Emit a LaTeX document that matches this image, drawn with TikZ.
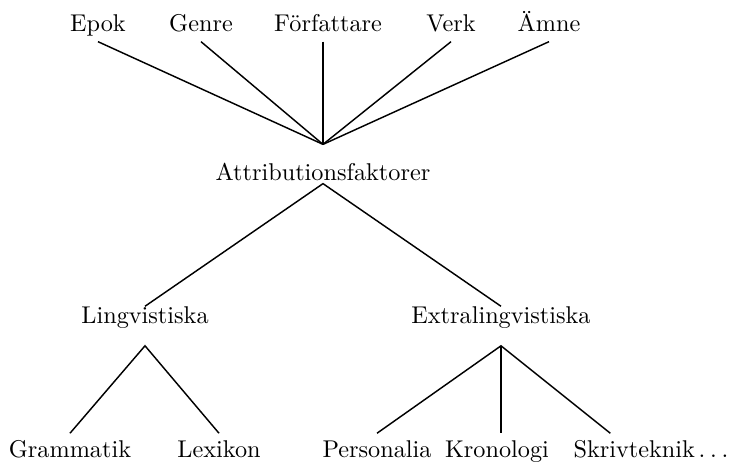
\documentclass[tikz,border=0pt]{standalone}
\usepackage{tikz}

\begin{document}
\begin{tikzpicture}[x=0.0145cm, y=-0.0145cm, line width=0.6pt,
    topp/.style={anchor=base, inner sep=0pt, text depth=4.1pt},
    rot/.style={anchor=base, inner sep=0pt, text height=14.4pt, text depth=1.2pt},
    gren/.style={anchor=base, inner sep=0pt, text height=6.6pt, text depth=9.1pt},
    blad/.style={anchor=base, inner sep=0pt, text height=9.5pt, text depth=0pt}]
  \useasboundingbox (0, 0) rectangle (731, 462);

  % faktorer overst
  \node [topp] (epok) at (98, 31) {Epok};
  \node [topp] (genre) at (201, 31) {Genre};
  \node [topp] (forf) at (328, 31) {Författare};
  \node [topp] (verk) at (451, 31) {Verk};
  \node [topp] (amne) at (549, 31) {Ämne};

  \node [rot] (attr) at (323, 180) {Attributionsfaktorer};

  \node [gren] (ling) at (145, 323) {Lingvistiska};
  \node [gren] (extra) at (501, 323) {Extralingvistiska};

  % nedersta raden
  \node [blad] (gram) at (70, 457) {Grammatik};
  \node [blad] (lex) at (219, 457) {Lexikon};
  \node [blad] (pers) at (377, 457) {Personalia};
  \node [blad] (kron) at (497, 457) {Kronologi};
  \node [blad] (skriv) at (651, 457) {Skrivteknik\kern1.5pt.\kern2pt.\kern2pt.};

  \draw (epok.south) -- (attr.north);
  \draw (genre.south) -- (attr.north);
  \draw (forf.south -| attr.north) -- (attr.north);
  \draw (verk.south) -- (attr.north);
  \draw (amne.south) -- (attr.north);

  \draw (ling.north) -- (attr.south) -- (extra.north);

  \draw (gram.north) -- (ling.south) -- (lex.north);

  \draw (pers.north) -- (extra.south) -- ([xshift=-0.59cm]skriv.north);
  \draw (extra.south) -- (kron.north -| extra.south);
\end{tikzpicture}
\end{document}
